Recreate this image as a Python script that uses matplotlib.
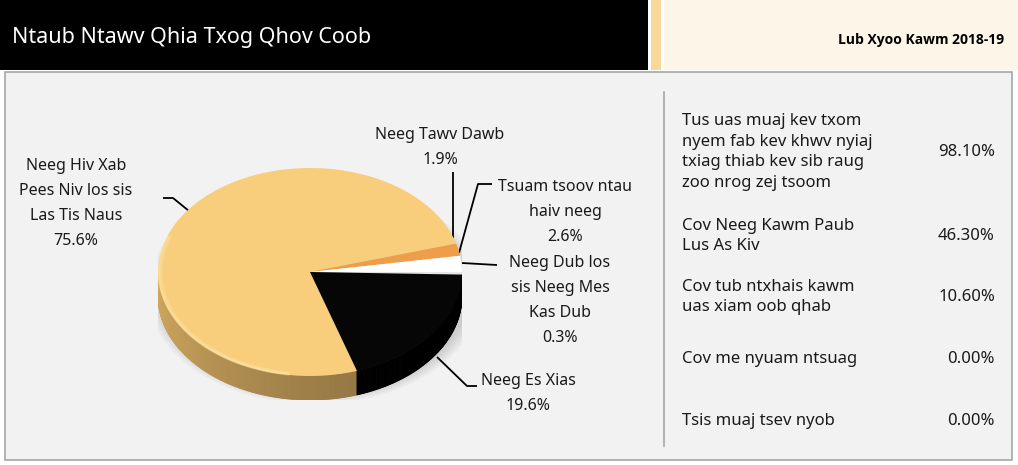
import numpy as np
import matplotlib
matplotlib.use("Agg")
import matplotlib.pyplot as plt
from matplotlib.patches import Rectangle, Polygon, Ellipse
import matplotlib.colors as mcolors

plt.rcParams['font.family'] = ['Noto Sans', 'DejaVu Sans']

# ---------------- data ----------------
title = "Ntaub Ntawv Qhia Txog Qhov Coob"
subtitle = "Lub Xyoo Kawm 2018-19"

pie_labels = ["Neeg Hiv Xab\nPees Niv los sis\nLas Tis Naus",
              "Neeg Tawv Dawb",
              "Tsuam tsoov ntau\nhaiv neeg",
              "Neeg Dub los\nsis Neeg Mes\nKas Dub",
              "Neeg Es Xias"]
pie_values = [75.6, 1.9, 2.6, 0.3, 19.6]
pie_colors = ["#F8CD7C", "#EE9D48", "#FFFFFF", "#E6E6E6", "#060606"]
side_colors = ["#A9884D", "#B8742F", "#D8D8D8", "#A0A0A0", "#000000"]

table_labels = ["Tus uas muaj kev txom\nnyem fab kev khwv nyiaj\ntxiag thiab kev sib raug\nzoo nrog zej tsoom",
                "Cov Neeg Kawm Paub\nLus As Kiv",
                "Cov tub ntxhais kawm\nuas xiam oob qhab",
                "Cov me nyuam ntsuag",
                "Tsis muaj tsev nyob"]
table_values = [98.10, 46.30, 10.60, 0.00, 0.00]

# ---------------- figure ----------------
W, H = 1018, 465
fig = plt.figure(figsize=(W / 100, H / 100), dpi=100)
fig.patch.set_facecolor("white")
bg = fig.add_axes([0, 0, 1, 1])
bg.set_xlim(0, W)
bg.set_ylim(H, 0)
bg.axis("off")

# header
bg.add_patch(Rectangle((0, 0), 648, 70, facecolor="black", edgecolor="none"))
bg.add_patch(Rectangle((651, 0), 10, 70, facecolor="#FAD898", edgecolor="none"))
bg.add_patch(Rectangle((664, 0), W - 664, 70, facecolor="#FDF5E8", edgecolor="none"))
bg.text(12, 38, title, color="white", fontsize=15.5, va="center", ha="left")
bg.text(1004, 40, subtitle, color="black", fontsize=10, va="center", ha="right",
        fontweight="bold", family=['Open Sans', 'DejaVu Sans'])

# panel
bg.add_patch(Rectangle((5, 72), 1007, 388, facecolor="#F2F2F2", edgecolor="#A6A6A6",
                       linewidth=1.2))

# ---------------- pie (3D-looking) ----------------
cx_px, cy_px = 310, 272
rx_px, ry_px = 152, 104
depth_px = 24
d = depth_px / ry_px
left = (cx_px - rx_px) / W
top_px = cy_px - ry_px
bottom_px = cy_px + ry_px + depth_px
axp = fig.add_axes([left, (H - bottom_px) / H, 2 * rx_px / W, (bottom_px - top_px) / H])
axp.patch.set_alpha(0)

# soft shadow
for k in range(5):
    s = 1.0 + 0.02 * (k + 1)
    axp.add_patch(Ellipse((0.03, -d * 0.7 - 0.03), 2 * s, 2 * s * 0.98, facecolor="black",
                          alpha=0.03, edgecolor="none", zorder=0.1))

wedges, _ = axp.pie(pie_values, colors=pie_colors, startangle=288, counterclock=False,
                    wedgeprops=dict(linewidth=0, antialiased=True), radius=1.0)
for w in wedges:
    w.set_zorder(2)
axp.set_aspect("auto")
axp.set_xlim(-1, 1)
axp.set_ylim(-1 - d, 1)
axp.axis("off")

# side wall of the pie, built from the wedge angles
for w, sc in zip(wedges, side_colors):
    t1, t2 = w.theta1, w.theta2
    ts = np.linspace(t1, t2, max(int(abs(t2 - t1) * 2), 2))
    base = np.array(mcolors.to_rgb(sc))
    for a0, a1 in zip(ts[:-1], ts[1:]):
        mid = np.deg2rad((a0 + a1) / 2)
        if np.sin(mid) > 0.001:
            continue
        r0, r1 = np.deg2rad(a0), np.deg2rad(a1)
        f = 1.05 + 0.18 * (-np.cos(mid)) - 0.12 * (-np.sin(mid))
        col = np.clip(base * f, 0, 1)
        poly = [(np.cos(r0), np.sin(r0)), (np.cos(r1), np.sin(r1)),
                (np.cos(r1), np.sin(r1) - d), (np.cos(r0), np.sin(r0) - d)]
        axp.add_patch(Polygon(poly, closed=True, facecolor=col, edgecolor=col,
                              linewidth=0.6, zorder=1))

# soft highlight inside the left rim of the top face
for k, (rr, al) in enumerate([(0.995, 0.35), (0.985, 0.25), (0.975, 0.15)]):
    tt = np.deg2rad(np.linspace(160, 262, 80))
    axp.plot(np.cos(tt) * rr, np.sin(tt) * rr, color="#FFF2C0", lw=1.6, alpha=al,
             zorder=3, solid_capstyle="round")

# ---------------- labels and leaders ----------------
lab_kw = dict(fontsize=11.5, color="#1A1A1A", ha="center", va="center", linespacing=1.75)
pct = [f"{v:.1f}%" for v in pie_values]
bg.text(76, 203, pie_labels[0] + "\n" + pct[0], **lab_kw)
bg.text(440, 147, pie_labels[1] + "\n" + pct[1], **lab_kw)
bg.text(565, 212, pie_labels[2] + "\n" + pct[2], **lab_kw)
bg.text(560, 300, pie_labels[3] + "\n" + pct[3], **lab_kw)
bg.text(528, 393, pie_labels[4] + "\n" + pct[4], **lab_kw)

lk = dict(color="black", lw=1.3, solid_capstyle="butt", zorder=5)
bg.plot([163, 173, 189], [198, 198, 211], **lk)
bg.plot([453, 453], [172, 238], **lk)
bg.plot([492, 478, 459], [184, 184, 253], **lk)
bg.plot([462, 497], [263, 265], **lk)
bg.plot([437, 467, 477], [357, 386, 386], **lk)

# ---------------- right-hand table ----------------
bg.plot([664, 664], [92, 446], color="#A6A6A6", lw=1.2)
row_y = [152, 236, 297, 359, 421]
tab_kw = dict(fontsize=12, color="#1A1A1A", va="center", linespacing=1.38)
for lab, val, y in zip(table_labels, table_values, row_y):
    bg.text(682, y, lab, ha="left", **tab_kw)
    bg.text(995, y, f"{val:.2f}%", ha="right", **tab_kw)

fig.savefig("out.png", dpi=100)
